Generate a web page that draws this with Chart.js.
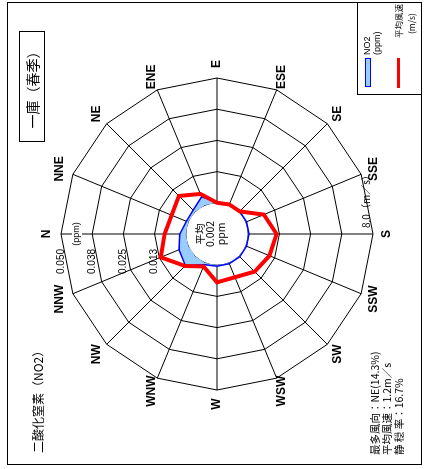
<!DOCTYPE html>
<html>
<head>
<meta charset="utf-8">
<script src="https://cdn.jsdelivr.net/npm/chart.js@4.4.0/dist/chart.umd.min.js"></script>
<style>
html, body { margin: 0; padding: 0; background: #fff; overflow: hidden; }
/* the whole sheet is laid out upright, then turned a quarter left */
#page { position: absolute; left: 0; top: 0; width: 469px; height: 425px; background: #fff;
  transform-origin: 0 0; transform: translate(0, 469px) rotate(-90deg);
  font-family: "Noto Sans CJK JP", "Liberation Sans", sans-serif; color: #000; }
#rose { position: absolute; left: 0; top: 0; }
.box { position: absolute; border: 1px solid #000; box-sizing: border-box; }
.txt { position: absolute; white-space: nowrap; }
</style>
</head>
<body>
<div id="page">
  <canvas id="rose" width="469" height="425"></canvas>
  <div class="box" style="left:4px; top:7px; width:463px; height:415px;"></div>
  <div class="txt" style="left:16px; top:30px; font-size:12px; line-height:16px;">二酸化窒素（NO2）</div>
  <div class="box" style="left:327px; top:19px; width:111px; height:26px; font-size:14px; line-height:24px; text-align:center;">一庫（春季）</div>
  <div class="txt" style="left:14px; top:369px; font-size:10.5px; line-height:12px;">最多風向：NE(14.3%)<br>平均風速：1.2m／s<br>静 穏 率：16.7%</div>
  <div class="box" style="left:374px; top:357px; width:93px; height:65px;"></div>
  <div style="position:absolute; left:382px; top:365px; width:29px; height:6px; background:#99ccff; border:1px solid #0000ff; box-sizing:border-box;"></div>
  <div class="txt" style="left:414px; top:362px; font-size:9px; line-height:10px; font-family:'Liberation Sans',sans-serif;">NO2<br>(ppm)</div>
  <div style="position:absolute; left:381px; top:397px; width:30px; height:3px; background:#ff0000;"></div>
  <div class="txt" style="left:431px; top:392px; font-size:8.5px; line-height:13px;">平均風速<br><span style="padding-left:4px;">(m/s)</span></div>
</div>
<script>
// 16 bearings, clockwise from north
var directions = ['N','NNE','NE','ENE','E','ESE','SE','SSE','S','SSW','SW','WSW','W','WNW','NW','NNW'];
// NO2 mean concentration by wind direction (ppm)
var no2 = [0.0024, 0.0008, 0.0010, 0.0036, 0.0004, 0.0003, 0.0003, 0.0003, 0.0003, 0.0003, 0.0004, 0.0004, 0.0004, 0.0008, 0.0054, 0.0040];
// mean wind speed by direction (m/s)
var windSpeed = [1.36, 1.15, 1.45, 0.78, 0.0, 0.05, 0.05, 1.25, 1.82, 1.64, 1.41, 1.0, 1.1, 0.25, 0.9, 1.9];
// ring values and their printed labels
var no2Ticks = [0.0125, 0.025, 0.0375, 0.05];
var no2TickLabels = ['0.013', '0.025', '0.038', '0.050'];
var windMax = 8;
var windMaxLabel = '8.0（m／s）';
var centreLabel = ['平均', '0.002', 'ppm'];

var roseDecor = {
  id: 'roseDecor',
  beforeDatasetsDraw: function (chart) {
    var r = chart.scales.r, ctx = chart.ctx;
    var r0 = r.getDistanceFromCenterForValue(0);
    ctx.save();
    // calm circle in the middle
    ctx.beginPath();
    ctx.arc(r.xCenter, r.yCenter, r0, 0, Math.PI * 2);
    ctx.fillStyle = '#fff';
    ctx.fill();
    ctx.lineWidth = 1;
    ctx.strokeStyle = '#000';
    ctx.stroke();

    ctx.fillStyle = '#000';
    ctx.font = '10px "Liberation Sans", Arial, sans-serif';
    ctx.textAlign = 'right';
    ctx.textBaseline = 'middle';
    no2Ticks.forEach(function (v, i) {
      ctx.fillText(no2TickLabels[i], r.xCenter - 15, r.yCenter - r.getDistanceFromCenterForValue(v));
    });

    // unit on the north spoke
    ctx.font = '9px "Liberation Sans", Arial, sans-serif';
    ctx.textAlign = 'center';
    var py = r.yCenter - r.drawingArea + 16;
    var w = ctx.measureText('(ppm)').width;
    ctx.fillStyle = '#fff';
    ctx.fillRect(r.xCenter - w / 2 - 1, py - 5, w + 2, 10);
    ctx.fillStyle = '#000';
    ctx.fillText('(ppm)', r.xCenter, py);

    // wind scale end on the south spoke
    var ws = chart.scales.ws;
    ctx.font = '10px "Noto Sans CJK JP", sans-serif';
    ctx.textAlign = 'left';
    ctx.fillText(windMaxLabel, r.xCenter + 6, ws.yCenter + ws.getDistanceFromCenterForValue(windMax) - 7);
    ctx.restore();
  },
  afterDatasetsDraw: function (chart) {
    var r = chart.scales.r, ctx = chart.ctx;
    ctx.save();
    ctx.fillStyle = '#000';
    ctx.textAlign = 'center';
    ctx.textBaseline = 'middle';
    ctx.font = '10.5px "Noto Sans CJK JP", sans-serif';
    centreLabel.forEach(function (t, i) {
      ctx.fillText(t, r.xCenter, r.yCenter - 17 + i * 10.5);
    });
    ctx.font = 'bold 12px "Liberation Sans", Arial, sans-serif';
    directions.forEach(function (d, i) {
      var p = r.getPointPosition(i, r.drawingArea + 14);
      ctx.fillText(d, p.x, p.y);
    });
    ctx.restore();
  }
};

new Chart(document.getElementById('rose'), {
  type: 'radar',
  data: {
    labels: directions,
    datasets: [{
      label: '平均風速',
      data: windSpeed,
      rAxisID: 'ws',
      borderColor: '#ff0000',
      borderWidth: 4,
      backgroundColor: 'rgba(0,0,0,0)',
      fill: false,
      pointRadius: 0,
      tension: 0
    }, {
      label: 'NO2',
      data: no2,
      borderColor: '#0000ff',
      borderWidth: 1.5,
      backgroundColor: '#99ccff',
      fill: 'origin',
      pointRadius: 0,
      tension: 0
    }]
  },
  options: {
    responsive: false,
    animation: false,
    layout: { padding: { top: 61, bottom: 52, left: 1, right: 0 } },
    plugins: { legend: { display: false }, tooltip: { enabled: false } },
    scales: {
      r: {
        min: -0.0125,
        max: 0.05,
        ticks: { display: false, stepSize: 0.0125 },
        pointLabels: { display: false },
        grid: {
          lineWidth: 1,
          color: function (c) { return (c.tick && c.tick.value > 1e-6) ? '#000' : 'rgba(0,0,0,0)'; }
        },
        angleLines: { color: '#000', lineWidth: 1 }
      },
      ws: {
        type: 'radialLinear',
        axis: 'r',
        display: false,
        min: -2,
        max: windMax,
        ticks: { display: false },
        pointLabels: { display: false }
      }
    }
  },
  plugins: [roseDecor]
});
</script>
</body>
</html>
